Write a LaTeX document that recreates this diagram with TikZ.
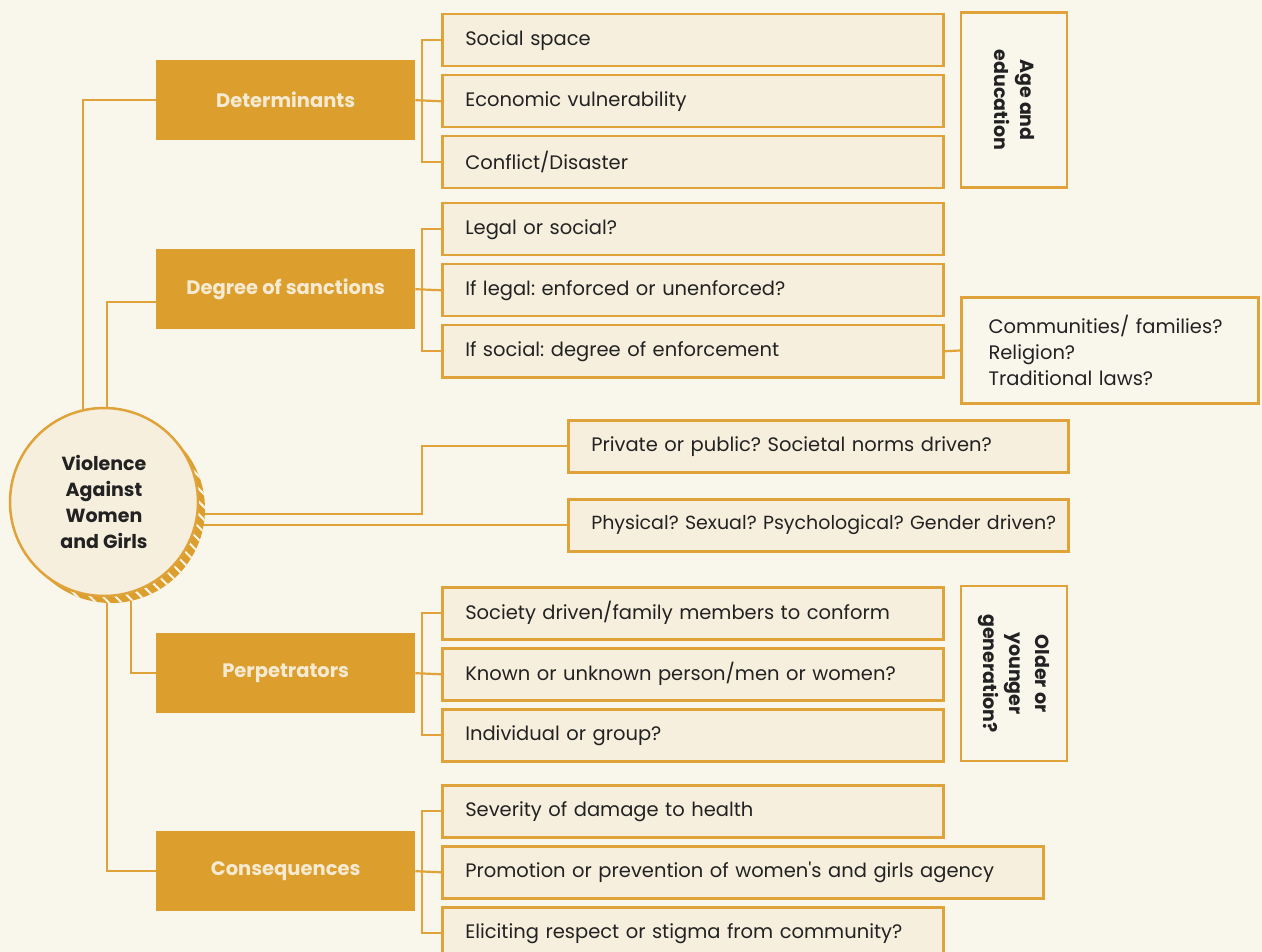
\documentclass[tikz,border=0pt]{standalone}
\usepackage{fontspec}
\setmainfont{Poppins}
\usetikzlibrary{patterns.meta}
\frenchspacing

\definecolor{bgcream}{HTML}{F9F6EC}
\definecolor{boxcream}{HTML}{F6EFDD}
\definecolor{gold}{HTML}{DC9F2E}
\definecolor{goldline}{HTML}{E0A33A}
\definecolor{inktext}{HTML}{222222}
\definecolor{paletext}{HTML}{F6EAD3}

\pgfdeclarelayer{bg}
\pgfdeclarelayer{back}
\pgfsetlayers{bg,back,main}

\tikzset{
  cat/.style={fill=gold,text=paletext,font=\fontsize{19.5}{22}\selectfont\bfseries,
    minimum width=259pt,minimum height=80pt,anchor=north west,inner sep=0pt},
  sub/.style={draw=goldline,line width=2.5pt,fill=boxcream,text=inktext,
    font=\fontsize{19.5}{22}\selectfont,anchor=north west,minimum height=52pt,
    inner xsep=23pt,inner ysep=0pt,align=left,text width=#1},
  sub/.default=455pt,
  side/.style={draw=goldline,line width=2.5pt,fill=bgcream,text=inktext,
    font=\fontsize{19}{26}\selectfont\bfseries,minimum width=175pt,
    minimum height=106pt,align=center,inner sep=0pt},
  link/.style={draw=goldline,line width=2.2pt}
}

\begin{document}
\begin{tikzpicture}[x=1pt,y=-1pt]
\begin{pgfonlayer}{bg}
\fill[bgcream] (0,0) rectangle (1262,952);
\end{pgfonlayer}
\path[use as bounding box] (0,0) rectangle (1262,952);

% category boxes
\node[cat] (det) at (156,60) {Determinants};
\node[cat] (sanc) at (156,249) {Degree of sanctions};
\node[cat] (perp) at (156,633) {Perpetrators};
\node[cat] (cons) at (156,831) {Consequences};

% determinants
\node[sub] (det1) at (441,13) {Social space};
\node[sub] (det2) at (441,74) {Economic vulnerability};
\node[sub] (det3) at (441,135) {Conflict/Disaster};
\node[side,rotate=-90] (agebox) at (1014,100) {Age and\\education};

% sanctions
\node[sub] (sanc1) at (441,202) {Legal or social?};
\node[sub] (sanc2) at (441,263) {If legal: enforced or unenforced?};
\node[sub] (sanc3) at (441,324) {If social: degree of enforcement};
\node[draw=goldline,line width=2.5pt,fill=bgcream,text=inktext,
  font=\fontsize{19.5}{26}\selectfont,align=left,text width=243pt,
  inner xsep=27pt,minimum height=106pt] (sancnote) at (1110,350.5)
  {Communities/ families?\\Religion?\\Traditional laws?};

% kind of violence
\node[sub=454pt] (private) at (567,419) {Private or public? Societal norms driven?};
\node[sub=454pt,font=\fontsize{19}{22}\selectfont] (physical) at (567,498)
  {\mbox{Physical? Sexual? Psychological? Gender driven?}};

% perpetrators
\node[sub] (perp1) at (441,586) {Society driven/family members to conform};
\node[sub] (perp2) at (441,647) {Known or unknown person/men or women?};
\node[sub] (perp3) at (441,708) {Individual or group?};
\node[side,rotate=-90] (genbox) at (1014,673.5) {Older or\\younger\\generation?};

% consequences
\node[sub] (cons1) at (441,784) {Severity of damage to health};
\node[sub=555pt] (cons2) at (441,845) {Promotion or prevention of women\textquotesingle s and girls agency};
\node[sub] (cons3) at (441,906) {Eliciting respect or stigma from community?};

% hub with hatched shadow
\fill[gold] (111,509) circle (94pt);
\fill[pattern={Lines[angle=-45,distance=9pt,line width=2pt]},pattern color=bgcream]
  (111,509) circle (94pt);
\node[circle,draw=goldline,line width=2.5pt,fill=boxcream,text=inktext,
  minimum size=188pt,align=center,font=\fontsize{19}{26}\selectfont\bfseries]
  (vawg) at (104,502) {Violence\\Against\\Women\\and Girls};

\begin{pgfonlayer}{back}
\draw[link] (det1.west) -- ++(-19,0) |- (det3.west);
\draw[link] (det.east) -- (det2.west);
\draw[link] (sanc1.west) -- ++(-19,0) |- (sanc3.west);
\draw[link] (sanc.east) -- (sanc2.west);
\draw[link] (sanc3.east) -- (sancnote.west);
\draw[link] (perp1.west) -- ++(-19,0) |- (perp3.west);
\draw[link] (perp.east) -- (perp2.west);
\draw[link] (cons1.west) -- ++(-19,0) |- (cons3.west);
\draw[link] (cons.east) -- (cons2.west);
% hub to categories
\draw[link] (det.west) -| ([xshift=-21pt]vawg.center);
\draw[link] ([yshift=-13pt]sanc.west) -| ([xshift=3pt]vawg.center);
\draw[link] (perp.west) -| ([xshift=27pt]vawg.center);
\draw[link] (cons.west) -| ([xshift=3pt]vawg.center);
\draw[link] (private.west) -| ([xshift=318pt,yshift=-12pt]vawg.center)
  -- ([yshift=-12pt]vawg.center);
\draw[link] (physical.west) -- (physical.west -| vawg.center);
\end{pgfonlayer}
\end{tikzpicture}
\end{document}
